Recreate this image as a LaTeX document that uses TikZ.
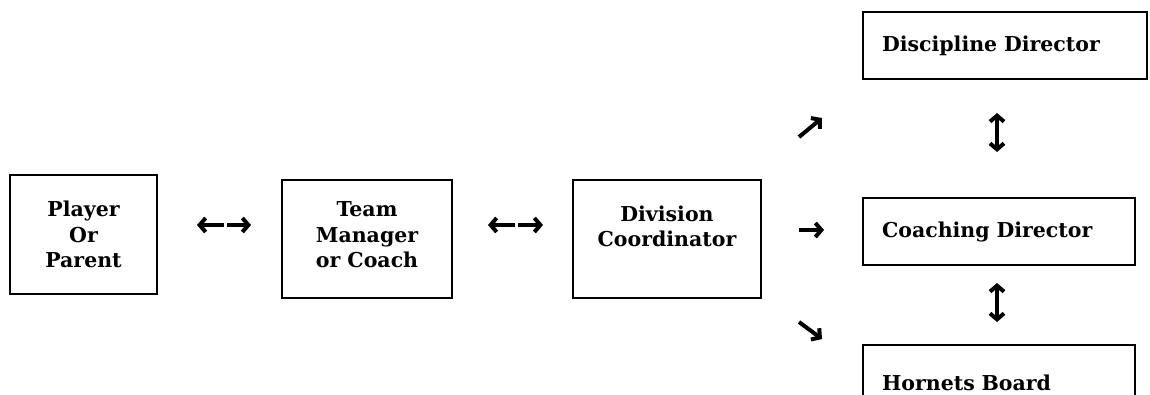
\documentclass[tikz,border=0pt]{standalone}
\usepackage{fontspec}
\setmainfont{DejaVu Serif}
\usepackage{tikz}
\usetikzlibrary{arrows.meta, positioning, calc}

\begin{document}
\begin{tikzpicture}[x=1pt, y=-1pt,
            font=\bfseries\fontsize{20.5}{25.5}\selectfont,
            box/.style={draw, line width=1.5pt, align=center, inner sep=0pt},
            rbox/.style={draw, line width=1.5pt, align=left, inner xsep=19pt,
                         inner ysep=0pt, text width=#1},
            arr/.style={line width=4pt, -{Straight Barb[length=6pt, width=14pt]}},
            darr/.style={line width=4pt, {Straight Barb[length=6pt, width=14pt]}-{Straight Barb[length=6pt, width=14pt]}}]
  \useasboundingbox (0,0) rectangle (1150,394);
  \clip (0,0) rectangle (1150,394);
  % left chain
  \node[box, minimum width=147pt, minimum height=119pt] (player) at (83.5,234.5)
    {Player\\Or\\Parent};
  \node[box, minimum width=170pt, minimum height=118pt] (team) at (367,239)
    {Team\\Manager\\or Coach\\[-17.5pt]~};
  \node[box, minimum width=188pt, minimum height=118pt] (division) at (667,239)
    {Division\\Coordinator\\~};
  % right column
  \node[rbox=246pt, minimum height=67pt] (discipline) at (1005,45.5)
    {Discipline Director};
  \node[rbox=234pt, minimum height=67pt] (coaching) at (999,231.5)
    {Coaching Director};
  \node[rbox=234pt, minimum height=75pt] (hornets) at (999,382.5)
    {Hornets Board};
  % arrow ends
  \coordinate (p1) at (224,225);  \coordinate (p1l) at (197,225);
  \coordinate (p2) at (227,225);  \coordinate (p2r) at (251,225);
  \coordinate (t1) at (515,225);  \coordinate (t1l) at (488,225);
  \coordinate (t2) at (518,225);  \coordinate (t2r) at (543,225);
  \coordinate (d0) at (799,137);  \coordinate (dne) at (822,118);
  \coordinate (d1) at (799,230);  \coordinate (de) at (824,230);
  \coordinate (d2) at (799,322);  \coordinate (dse) at (822,339);
  \coordinate (u1) at (997,113);  \coordinate (u1b) at (997,152);
  \coordinate (u2) at (997,283);  \coordinate (u2b) at (997,322);
  \draw[arr] (p1) -- (p1l);
  \draw[arr] (p2) -- (p2r);
  \draw[arr] (t1) -- (t1l);
  \draw[arr] (t2) -- (t2r);
  \draw[arr] (d0) -- (dne);
  \draw[arr] (d1) -- (de);
  \draw[arr] (d2) -- (dse);
  \draw[darr] (u1) -- (u1b);
  \draw[darr] (u2) -- (u2b);
\end{tikzpicture}
\end{document}
